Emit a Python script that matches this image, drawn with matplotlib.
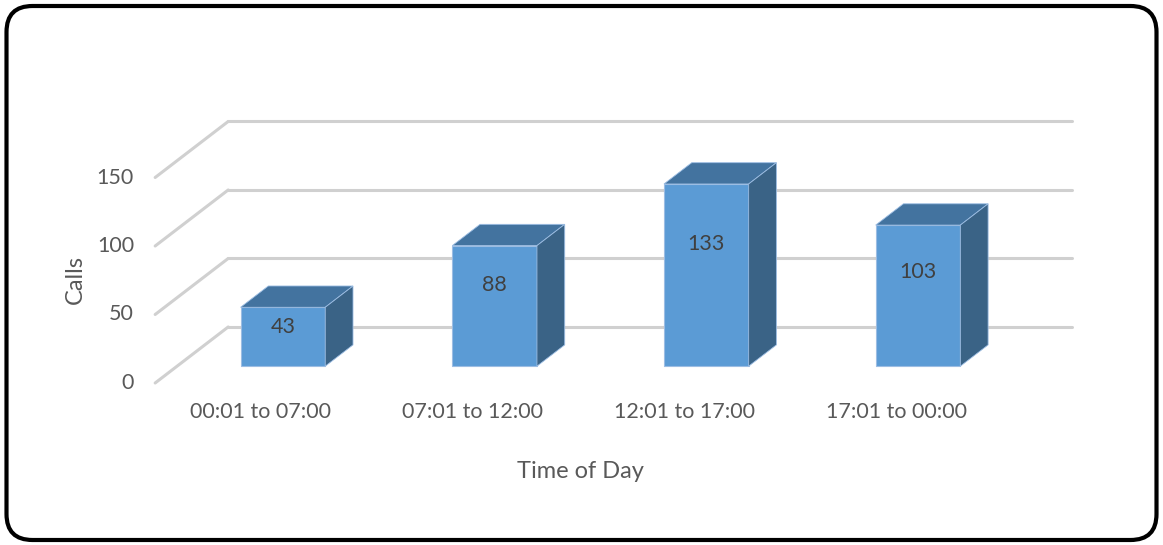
import matplotlib
matplotlib.use("Agg")
import matplotlib.pyplot as plt
from matplotlib.patches import Polygon, FancyBboxPatch
from matplotlib.transforms import Affine2D

# Calls received per time-of-day window
categories = ["00:01 to 07:00", "07:01 to 12:00", "12:01 to 17:00", "17:01 to 00:00"]
calls = [43, 88, 133, 103]
y_ticks = [0, 50, 100, 150]
x_title = "Time of Day"
y_title = "Calls"

plt.rcParams["font.family"] = ["Lato", "DejaVu Sans"]

W, H, DPI = 1163, 545, 100
fig = plt.figure(figsize=(W / DPI, H / DPI), dpi=DPI)
fig.patch.set_facecolor("white")

# Rounded frame around the whole chart (pixel units, origin bottom-left)
px = Affine2D().scale(1 / W, 1 / H) + fig.transFigure
frame = FancyBboxPatch((6.5, 5), W - 13, H - 11,
                       boxstyle="round,pad=0,rounding_size=26",
                       transform=px, facecolor="none",
                       edgecolor="black", linewidth=3.0, zorder=5)
fig.patches.append(frame)

# Plot area in pixels (left, right, top, bottom)
px_l, px_r, px_t, px_b = 140, 1090, 100, 400
ax = fig.add_axes([px_l / W, 1 - px_b / H, (px_r - px_l) / W, (px_b - px_t) / H])
ax.set_xlim((px_l - 261) / 211.7, (px_r - 261) / 211.7)
ax.set_ylim((383 - px_b) / 1.37, (383 - px_t) / 1.37)
ax.axis("off")

# Oblique depth vector of the floor (category units, value units)
DX, DY = 0.345, 40.9
n = len(categories)
x0, x1 = -0.5, n - 0.5

# Walls: diagonal on the left side wall, horizontal along the back wall
grid_kw = dict(color="#d0d0d0", linewidth=2.2, solid_capstyle="round", zorder=1)
for v in y_ticks:
    ax.plot([x0, x0 + DX], [v, v + DY], **grid_kw)
    ax.plot([x0 + DX, x1 + DX - 0.015], [v + DY, v + DY], **grid_kw)
    ax.text(x0 - 0.1, v, str(v), ha="right", va="center",
            fontsize=15.5, color="#595959")

# 3D columns
f0, f1 = 0.30, 0.68
half_w = 0.2
front_c, top_c, side_c = "#5b9bd5", "#43739f", "#3a6386"
edge_c = "#9cbde3"
for i, v in enumerate(calls):
    cx = i + f0 * DX
    base = f0 * DY
    ddx, ddy = (f1 - f0) * DX, (f1 - f0) * DY
    left, right = cx - half_w, cx + half_w
    top = base + v
    ax.bar(cx, v, width=2 * half_w, bottom=base, color=front_c,
           edgecolor=edge_c, linewidth=0.8, zorder=3)
    ax.add_patch(Polygon([(left, top), (right, top), (right + ddx, top + ddy),
                          (left + ddx, top + ddy)], closed=True,
                         facecolor=top_c, edgecolor=edge_c, linewidth=0.6, zorder=3))
    ax.add_patch(Polygon([(right, base), (right + ddx, base + ddy),
                          (right + ddx, top + ddy), (right, top)], closed=True,
                         facecolor=side_c, edgecolor=edge_c, linewidth=0.6, zorder=3))
    ax.text(cx, base + 0.67 * v, str(v), ha="center", va="center",
            fontsize=15.5, color="#404040", zorder=4)
    ax.text(i, -21, categories[i], ha="center", va="center",
            fontsize=15.5, color="#595959")

fig.text(580 / W, 1 - 471 / H, x_title, ha="center", va="center",
         fontsize=17, color="#595959")
fig.text(75 / W, 1 - 280 / H, y_title, ha="center", va="center",
         rotation=90, fontsize=17, color="#595959")

fig.savefig("out.png", dpi=DPI, facecolor="white")
